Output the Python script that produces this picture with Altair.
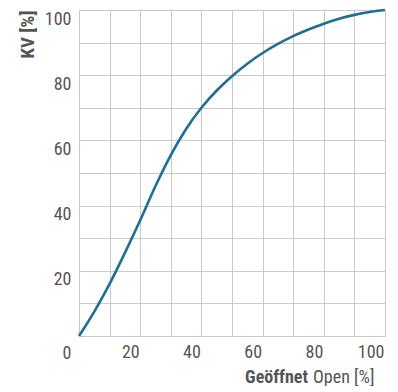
import altair as alt
import pandas as pd

opened = [0, 5, 10, 15, 20, 25, 30, 35, 40, 45, 50, 55, 60, 65, 70, 75, 80, 85, 90, 95, 100]
kv = [0, 7.5, 16, 25.5, 35.5, 46, 55.5, 63.5, 70, 75.3, 79.7, 83.5, 86.8, 89.6, 92, 94, 95.8, 97.3, 98.5, 99.4, 100]
grid_ticks = [0, 10, 20, 30, 40, 50, 60, 70, 80, 90, 100]

FONT = "Roboto Condensed, Liberation Sans Narrow, DejaVu Sans Condensed, sans-serif"
FS = 18
TXT = "#555555"
LINE = "#1f6e96"
GRID = "#c9c9c9"

df = pd.DataFrame({"open": opened, "kv": kv})

line = alt.Chart(df).mark_line(color=LINE, strokeWidth=2.6, interpolate="monotone").encode(
    x=alt.X("open:Q", scale=alt.Scale(domain=[0, 100], nice=False),
            axis=alt.Axis(values=grid_ticks, title=None, grid=True, gridColor=GRID, gridWidth=1,
                          domain=False, ticks=False,
                          labelExpr="datum.value % 20 == 0 && datum.value > 0 ? datum.label : ''",
                          labelAlign="right", labelBaseline="top", labelOffset=-1, labelPadding=7,
                          labelFont=FONT, labelFontSize=FS, labelColor=TXT)),
    y=alt.Y("kv:Q", scale=alt.Scale(domain=[0, 100], nice=False),
            axis=alt.Axis(values=grid_ticks, title="KV [%]", grid=True, gridColor=GRID, gridWidth=1,
                          domain=False, ticks=False,
                          labelExpr="datum.value % 20 == 0 ? datum.label : ''",
                          labelAlign="right", labelBaseline="top",
                          labelOffset={"condition": {"test": "datum.value == 0", "value": 8}, "value": 0},
                          labelPadding=8,
                          labelFont=FONT, labelFontSize=FS, labelColor=TXT,
                          titleFont=FONT, titleFontSize=19, titleFontWeight="bold", titleColor=TXT,
                          titleAngle=270, titleAlign="right", titleBaseline="middle",
                          titleX=-52, titleY=0)),
)

t1 = alt.Chart(pd.DataFrame({"t": ["Geöffnet"]})).mark_text(
    font=FONT, fontSize=FS, fontWeight="bold", color=TXT, align="right", baseline="alphabetic"
).encode(text="t:N", x=alt.value(229), y=alt.value(373))

t2 = alt.Chart(pd.DataFrame({"t": ["Open [%]"]})).mark_text(
    font=FONT, fontSize=FS, color=TXT, align="left", baseline="alphabetic"
).encode(text="t:N", x=alt.value(234), y=alt.value(373))

chart = alt.layer(line, t1, t2).properties(
    width=306, height=326,
    autosize=alt.AutoSizeParams(type="none"),
    padding={"left": 71, "top": 2, "right": 5, "bottom": 50},
).configure_view(stroke=None)

chart.save("out.html", embed_options={"renderer": "svg", "actions": False})
